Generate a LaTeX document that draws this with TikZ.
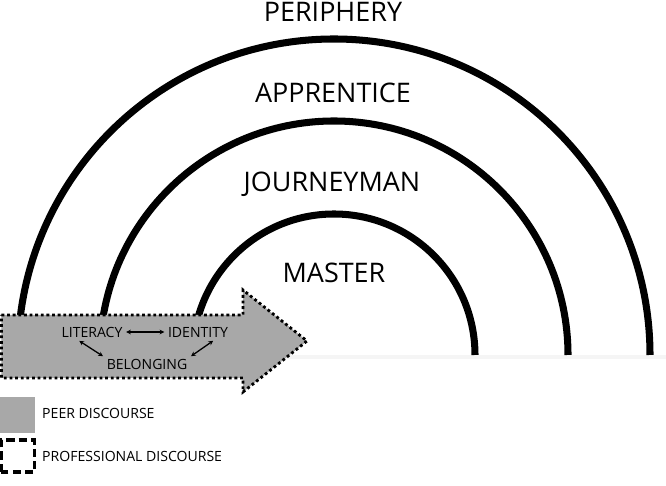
\documentclass[tikz,border=0pt]{standalone}
\usepackage{fontspec}
\setmainfont{Open Sans}
\usepackage{tikz}
\usetikzlibrary{arrows.meta}
\definecolor{peergray}{HTML}{A8A8A8}
\tikzset{
  stage/.style={line width=6pt, line cap=butt},
  stagelabel/.style={font=\fontsize{23}{27}\selectfont},
  keyword/.style={font=\fontsize{12}{14}\selectfont, inner sep=3pt},
  legendtext/.style={font=\fontsize{12}{14}\selectfont, anchor=west, inner sep=0pt},
  link/.style={{Stealth[length=4pt,width=4pt]}-{Stealth[length=4pt,width=4pt]}, line width=1.1pt},
  peer/.style={fill=peergray},
  professional/.style={line width=2.4pt, dash pattern=on 2.4pt off 2.4pt},
}
\begin{document}
\begin{tikzpicture}[x=0.03cm, y=0.03cm]
      \useasboundingbox (0,0) rectangle (666,486);
      % ground line
      \draw[gray!8, line width=4pt] (0,129) -- (666,129);
      % stages
      \draw[stage] (18,131) arc[start angle=180, end angle=0, radius=316];
      \draw[stage] (100,131) arc[start angle=180, end angle=0, radius=234];
      \draw[stage] (193,131) arc[start angle=180, end angle=0, radius=141];
      \node[stagelabel] (periphery) at (333,474) {PERIPHERY};
      \node[stagelabel] (apprentice) at (333,393) {APPRENTICE};
      \node[stagelabel] (journeyman) at (332,302) {JOURNEYMAN};
      \node[stagelabel] (master) at (334,213) {MASTER};
      % discourse arrow
      \draw[peer, professional] (1.5,171) -- (243,171) -- (243,196) -- (307,145)
        -- (243,94) -- (243,108) -- (1.5,108) -- cycle;
      \node[keyword] (literacy) at (92,154) {LITERACY};
      \node[keyword] (identity) at (198,154) {IDENTITY};
      \node[keyword] (belonging) at (147,122) {BELONGING};
      \draw[link] (literacy.east) -- (identity.west);
      \draw[link] (literacy.215) -- (belonging.170);
      \draw[link] (belonging.10) -- (identity.330);
      % legend
      \fill[peer] (0,53) rectangle (35,89);
      \node[legendtext] (peerlabel) at (42,73) {PEER DISCOURSE};
      \draw[line width=2.6pt, dash pattern=on 7pt off 3.5pt] (1.5,14) rectangle (34.5,46);
      \node[legendtext] (proflabel) at (42,30) {PROFESSIONAL DISCOURSE};
\end{tikzpicture}
\end{document}
